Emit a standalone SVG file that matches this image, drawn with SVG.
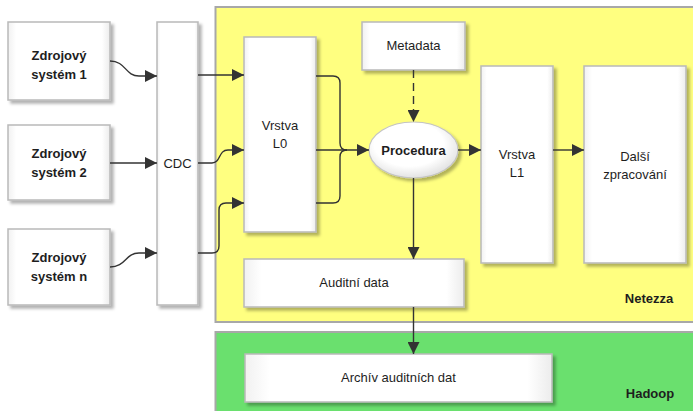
<svg xmlns="http://www.w3.org/2000/svg" width="693" height="411" viewBox="0 0 693 411">
<style>
  text { font-family: "Liberation Sans", Arial, sans-serif; font-size: 13px; fill: #1e1e1e; text-anchor: middle; }
  .b { font-weight: bold; }
  .box { fill: url(#boxg); stroke: #b9b9b9; stroke-width: 1.5; filter: url(#sh); }
  .conn { fill: none; stroke: #333; stroke-width: 1.4; }
  .region { stroke: #a8a8a8; stroke-width: 2; }
</style>
<defs>
  <filter id="sh" x="-20%" y="-20%" width="150%" height="150%">
    <feDropShadow dx="3" dy="3" stdDeviation="1.5" flood-color="#000" flood-opacity="0.3"/>
  </filter>
  <linearGradient id="boxg" x1="0" y1="0" x2="1" y2="0">
    <stop offset="0" stop-color="#f1f1f1"/>
    <stop offset="0.08" stop-color="#ffffff"/>
    <stop offset="0.92" stop-color="#ffffff"/>
    <stop offset="1" stop-color="#ececec"/>
  </linearGradient>
  <radialGradient id="ellg" cx="0.45" cy="0.4" r="0.65">
    <stop offset="0.6" stop-color="#ffffff"/>
    <stop offset="1" stop-color="#dcdcdc"/>
  </radialGradient>
  <marker id="arr" viewBox="0 0 12 12" refX="12" refY="6" markerWidth="12" markerHeight="12" markerUnits="userSpaceOnUse" orient="auto">
    <path d="M0,0 L12,6 L0,12 Z" fill="#333"/>
  </marker>
</defs>

<g id="netezza">
  <rect class="region" x="215.5" y="7" width="480" height="315" fill="#ffff80"/>
  <text class="b" x="649" y="303">Netezza</text>
</g>
<g id="hadoop">
  <rect class="region" x="215.5" y="332" width="480" height="85" fill="#6ae06e"/>
  <text class="b" x="650" y="398">Hadoop</text>
</g>

<g id="src1">
  <rect class="box" x="8" y="22" width="102" height="78"/>
  <text class="b" x="59" y="59.5">Zdrojový</text>
  <text class="b" x="59" y="78.5">systém 1</text>
</g>
<g id="src2">
  <rect class="box" x="8" y="125" width="102" height="75"/>
  <text class="b" x="59" y="158">Zdrojový</text>
  <text class="b" x="59" y="177">systém 2</text>
</g>
<g id="srcn">
  <rect class="box" x="8" y="229" width="102" height="76"/>
  <text class="b" x="59" y="262">Zdrojový</text>
  <text class="b" x="59" y="281">systém n</text>
</g>
<g id="cdc">
  <rect class="box" x="157" y="22" width="41" height="283"/>
  <text x="177.5" y="168">CDC</text>
</g>
<g id="l0">
  <rect class="box" x="244" y="37" width="72" height="195"/>
  <text x="280" y="130">Vrstva</text>
  <text x="280" y="148">L0</text>
</g>
<g id="metadata">
  <rect class="box" x="362" y="22" width="103" height="48"/>
  <text x="413.5" y="50">Metadata</text>
</g>
<g id="procedura">
  <ellipse cx="413.5" cy="150" rx="44.5" ry="28" fill="url(#ellg)" stroke="#c4c4c4" stroke-width="1.2" filter="url(#sh)"/>
  <text class="b" x="413.5" y="154.5">Procedura</text>
</g>
<g id="l1">
  <rect class="box" x="481" y="66" width="72" height="197"/>
  <text x="517" y="159">Vrstva</text>
  <text x="517" y="177">L1</text>
</g>
<g id="dalsi">
  <rect class="box" x="584" y="66" width="102" height="197"/>
  <text x="635" y="161">Další</text>
  <text x="635" y="179">zpracování</text>
</g>
<g id="audit">
  <rect class="box" x="244" y="259" width="220" height="48"/>
  <text x="354" y="287">Auditní data</text>
</g>
<g id="archiv">
  <rect class="box" x="245" y="354" width="307" height="48"/>
  <text x="398.5" y="382">Archív auditních dat</text>
</g>

<g id="connectors">
  <path class="conn" d="M110,61 C126,61 125,76 139,76 L157,76" marker-end="url(#arr)"/>
  <path class="conn" d="M110,163 L157,163" marker-end="url(#arr)"/>
  <path class="conn" d="M110,267 C126,267 125,253 139,253 L157,253" marker-end="url(#arr)"/>
  <path class="conn" d="M198,75 L244,75" marker-end="url(#arr)"/>
  <path class="conn" d="M198,163 L212,163 C221,163 218,150 228,150 L244,150" marker-end="url(#arr)"/>
  <path class="conn" d="M198,253 L212,253 Q219,253 219,246 L219,210 Q219,203 226,203 L244,203" marker-end="url(#arr)"/>
  <path class="conn" d="M316,76 L333,76 Q340,76 340,83 L340,143 Q340,150 347,150"/>
  <path class="conn" d="M316,203 L333,203 Q340,203 340,196 L340,157 Q340,150 347,150"/>
  <path class="conn" d="M316,150 L369,150" marker-end="url(#arr)"/>
  <path class="conn" d="M413.5,70 L413.5,122" stroke-dasharray="8,5" marker-end="url(#arr)"/>
  <path class="conn" d="M458,150 L481,150" marker-end="url(#arr)"/>
  <path class="conn" d="M553,150 L584,150" marker-end="url(#arr)"/>
  <path class="conn" d="M413.5,178 L413.5,259" marker-end="url(#arr)"/>
  <path class="conn" d="M413.5,307 L413.5,354" marker-end="url(#arr)"/>
</g>
</svg>
